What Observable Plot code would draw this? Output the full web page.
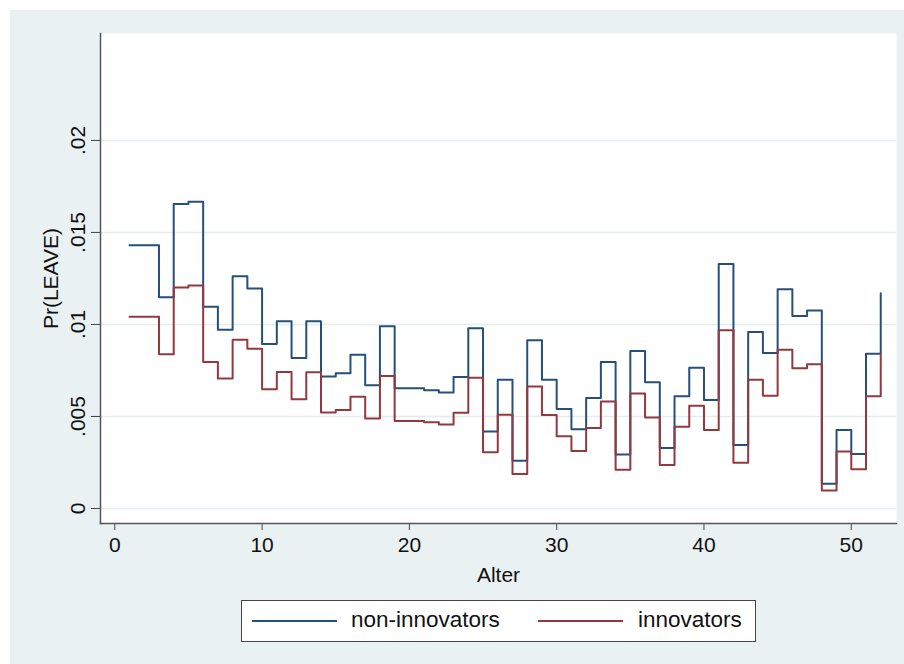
<!DOCTYPE html>
<html>
<head>
<meta charset="utf-8">
<script src="https://cdn.jsdelivr.net/npm/d3@7"></script>
<script src="https://cdn.jsdelivr.net/npm/@observablehq/plot@0.6"></script>
<style>
  html, body { margin: 0; padding: 0; background: #ffffff; }
  #panel {
    position: absolute; left: 10px; top: 10px; width: 894px; height: 654px;
    background: #eaf1f3; font-family: "Liberation Sans", Arial, sans-serif; color: #111;
  }
  #chart { position: absolute; left: 0; top: 0; }
  #legend {
    position: absolute; left: 231px; top: 590px; width: 515px; height: 42px;
    background: #fff; border: 1.5px solid #444; box-sizing: border-box;
  }
  .swatch { position: absolute; top: 19px; height: 2px; width: 85px; }
  .entry { position: absolute; top: 6px; font-size: 22.5px; line-height: 26px; white-space: nowrap; }
</style>
</head>
<body>
<div id="panel">
  <div id="chart"></div>
  <div id="legend"></div>
</div>
<script>
// Age in years
const alter = [1, 2, 3, 4, 5, 6, 7, 8, 9, 10, 11, 12, 13, 14, 15, 16, 17, 18, 19, 20,
  21, 22, 23, 24, 25, 26, 27, 28, 29, 30, 31, 32, 33, 34, 35, 36, 37, 38, 39, 40,
  41, 42, 43, 44, 45, 46, 47, 48, 49, 50, 51, 52];

// Predicted probability of leaving, by group
const nonInnovators = [0.0143, 0.0143, 0.01148, 0.01654, 0.01667, 0.01096, 0.00971, 0.01262, 0.01196, 0.00894,
  0.01018, 0.00818, 0.01017, 0.00717, 0.00735, 0.00836, 0.0067, 0.0099, 0.00654, 0.00654,
  0.00643, 0.0063, 0.00715, 0.00979, 0.00419, 0.00699, 0.0026, 0.00914, 0.00699, 0.0054,
  0.0043, 0.006, 0.00796, 0.00293, 0.00856, 0.00686, 0.00329, 0.0061, 0.00765, 0.00589,
  0.01329, 0.00345, 0.00959, 0.00845, 0.01192, 0.01046, 0.01076, 0.00134, 0.00426, 0.00296,
  0.00841, 0.0117];

const innovators = [0.01042, 0.01042, 0.00838, 0.01201, 0.01212, 0.00796, 0.00706, 0.00917, 0.00868, 0.00648,
  0.00742, 0.00594, 0.0074, 0.00522, 0.00535, 0.00607, 0.00489, 0.0072, 0.00475, 0.00475,
  0.00468, 0.00457, 0.0052, 0.00711, 0.00305, 0.00509, 0.00188, 0.00663, 0.00508, 0.00392,
  0.00312, 0.00437, 0.00581, 0.0021, 0.00625, 0.00495, 0.00237, 0.00444, 0.00558, 0.00426,
  0.00968, 0.00249, 0.00699, 0.00612, 0.00863, 0.00762, 0.00784, 0.00098, 0.0031, 0.00213,
  0.0061, 0.0084];

const seriesNames = ["non-innovators", "innovators"];
const seriesColors = ["#26507a", "#94383f"];

const xTicks = [0, 10, 20, 30, 40, 50];
const yTicks = [0, 0.005, 0.01, 0.015, 0.02];
const yTickLabels = ["0", ".005", ".01", ".015", ".02"];

const rowsNon = alter.map((a, i) => ({alter: a, p: nonInnovators[i]}));
const rowsInn = alter.map((a, i) => ({alter: a, p: innovators[i]}));

const chart = Plot.plot({
  width: 894,
  height: 575,
  marginLeft: 90,
  marginTop: 23,
  marginRight: 8,
  marginBottom: 62,
  style: {background: "transparent", fontFamily: "'Liberation Sans', Arial, sans-serif", fontSize: "21px", color: "#111"},
  x: {domain: [-0.97, 53.07]},
  y: {domain: [-0.000815, 0.02581]},
  marks: [
    Plot.frame({fill: "white", stroke: null}),
    Plot.gridY(yTicks, {stroke: "#e4ecef", strokeOpacity: 1, strokeWidth: 1.5}),
    Plot.axisY(yTicks, {
      tickFormat: (d) => yTickLabels[yTicks.indexOf(d)],
      tickRotate: -90, textAnchor: "middle", lineAnchor: "bottom",
      tickSize: 9, tickPadding: 7, stroke: "#444", fontSize: 21,
      label: "Pr(LEAVE)", labelAnchor: "center", labelOffset: 57, labelArrow: "none"
    }),
    Plot.axisX(xTicks, {
      tickSize: 7, tickPadding: 7, stroke: "#444", fontSize: 21,
      label: "Alter", labelAnchor: "center", labelOffset: 58, labelArrow: "none"
    }),
    Plot.frame({anchor: "left", stroke: "#555", strokeWidth: 1.5}),
    Plot.frame({anchor: "bottom", stroke: "#555", strokeWidth: 1.5}),
    Plot.line(rowsNon, {x: "alter", y: "p", curve: "step-after", stroke: seriesColors[0], strokeWidth: 2}),
    Plot.line(rowsInn, {x: "alter", y: "p", curve: "step-after", stroke: seriesColors[1], strokeWidth: 2})
  ]
});
document.getElementById("chart").appendChild(chart);

// Legend below the plot
const legend = document.getElementById("legend");
const swatchLeft = [10, 296];
const textLeft = [109, 396];
seriesNames.forEach((name, i) => {
  const sw = document.createElement("div");
  sw.className = "swatch";
  sw.style.left = swatchLeft[i] + "px";
  sw.style.background = seriesColors[i];
  legend.appendChild(sw);
  const tx = document.createElement("div");
  tx.className = "entry";
  tx.style.left = textLeft[i] + "px";
  tx.textContent = name;
  legend.appendChild(tx);
});
</script>
</body>
</html>
